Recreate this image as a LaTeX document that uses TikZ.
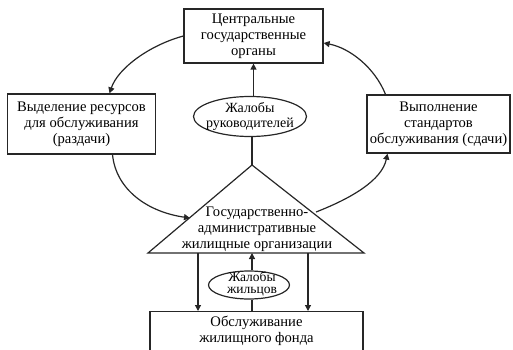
\documentclass[tikz,border=0pt]{standalone}
\usepackage{fontspec}
\setmainfont{Liberation Serif}
\usetikzlibrary{shapes.geometric,arrows.meta}
\begin{document}
\begin{tikzpicture}[x=1pt,y=-1pt,
  every node/.style={font=\fontsize{14.6}{16}\selectfont, align=center},
  box/.style={draw=black!85, line width=1.2pt, inner sep=0pt},
  oval/.style={draw=black!85, line width=1.2pt, ellipse, inner sep=0pt},
  conn/.style={draw=black!85, line width=1.2pt},
  arr/.style={conn, -{Triangle[length=6pt,width=6pt]}}]
\useasboundingbox (0,0) rectangle (513,350);
\clip (0,0) rectangle (513,350);

\node[box, minimum width=139pt, minimum height=54pt] (top) at (253.5,36) {Центральные\\государственные\\органы};
\node[box, minimum width=148pt, minimum height=60pt] (left) at (81.5,124) {Выделение ресурсов\\для обслуживания\\(раздачи)};
\node[box, minimum width=143pt, minimum height=58pt] (right) at (438.5,124) {Выполнение\\стандартов\\обслуживания (сдачи)};
\node[oval, minimum width=113pt, minimum height=40pt] (e1) at (250,116.5) {};
\node[font=\fontsize{14}{15}\selectfont] (e1t) at (e1.center) {Жалобы\\руководителей};

% triangle
\coordinate (apex) at (252,165);
\coordinate (bl) at (148,253);
\coordinate (br) at (364,253);
\draw[conn, line join=miter] (apex) -- (bl) -- (br) -- cycle;
\node (tri) at (257,229) {Государственно-\\административные\\жилищные организации};
\coordinate (tleft) at (190,218);
\coordinate (tright) at (316,212);
\coordinate (b1) at (198,253);
\coordinate (b2) at (252,253);
\coordinate (b3) at (308,253);

\node[oval, minimum width=81pt, minimum height=28pt] (e2) at (249,285) {};
\node[font=\fontsize{13.5}{12.5}\selectfont] (e2t) at ([xshift=3pt,yshift=1pt]e2.center) {Жалобы\\жильцов};
\node[box, minimum width=213pt, minimum height=80pt, anchor=north] (bot) at (256.5,311) {};
\node (bott) at (256.5,331) {Обслуживание\\жилищного фонда};

% connectors
\draw[arr] (e1.north -| top.south) -- (top.south);
\draw[conn] (e1.south -| apex) -- (apex);
\draw[arr] (top.west) .. controls (150,45) and (118,68) .. ([xshift=28pt]left.north);
\draw[arr] ([xshift=31pt]left.south) .. controls (116,190) and (148,212) .. (tleft);
\draw[arr] (tright) .. controls (352,198) and (382,180) .. ([xshift=-51pt]right.south);
\draw[arr] ([xshift=-53pt]right.north) .. controls (375,68) and (350,48) .. ([yshift=-7pt]top.east);
\draw[arr] (b1) -- (b1 |- bot.north);
\draw[arr] (b3) -- (b3 |- bot.north);
\draw[arr] (e2.north -| b2) -- (b2);
\draw[conn] (bot.north -| b2) -- (e2.south -| b2);
\end{tikzpicture}
\end{document}
